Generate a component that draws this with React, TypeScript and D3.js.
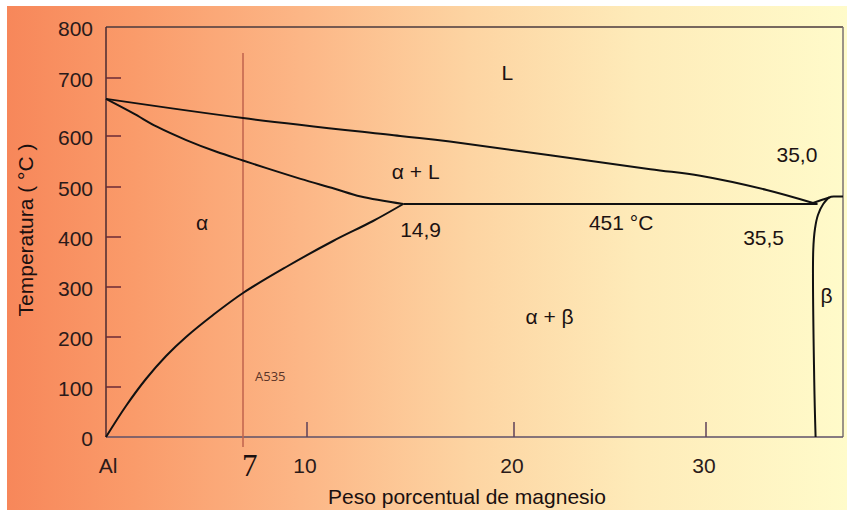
import React from "react";
import * as d3 from "d3";

// ---- data ----
const xBreaks = [0, 7, 10, 20, 30, 37];
const yBreaks = [0, 500, 600, 700, 800];

const yTickValues = [0, 100, 200, 300, 400, 500, 600, 700, 800];
const yInnerTicks = [100, 200, 300, 400, 500, 600, 700];
const xTickValues = [10, 20, 30];
const xTickLabels = ["10", "20", "30"];

const liquidusMg = [0, 7, 14.5, 16.9, 27.1, 29.7, 33.1, 35.47];
const liquidusT = [664, 631, 600, 589, 535, 522, 494, 468];

const solidusMg = [0, 1.4, 2.6, 4.1, 5.65, 7.0, 8.1, 9.7, 11.3, 12.6, 14.65];
const solidusT = [664, 639, 616, 592, 569, 552, 537, 516, 497, 481, 466];

const solvusMg = [0, 1.02, 2.04, 3.07, 4.09, 5.47, 7.0, 9.02, 11.26, 13.19, 14.65];
const solvusT = [0, 62, 116, 162, 200, 244, 288, 340, 392, 432, 466];

const eutecticMg = [14.65, 35.7];
const eutecticT = [466, 466];

const betaMg = [35.6, 35.53, 35.48, 35.57, 35.72, 35.99, 36.3, 36.6, 37];
const betaT = [0, 114, 374, 417, 444, 466, 479, 481, 481];

const joinMg = [35.47, 35.9, 36.3];
const joinT = [468, 474, 479];

const alloyMg = [7, 7];
const alloyT = [-20, 749];

const labels = [
  { text: "L", mg: 19.4, t: 697 },
  { text: "α + L", mg: 14.1, t: 516 },
  { text: "α", mg: 4.6, t: 414 },
  { text: "14,9", mg: 14.5, t: 400 },
  { text: "451 °C", mg: 23.9, t: 414 },
  { text: "α + β", mg: 20.6, t: 227 },
  { text: "35,0", mg: 33.6, t: 549 },
  { text: "35,5", mg: 31.9, t: 384 },
  { text: "β", mg: 35.85, t: 268 },
];

const W = 847;
const H = 510;

export default function App() {
  const x = d3.scaleLinear().domain(xBreaks).range([106, 243, 307, 514, 706, 843]);
  const y = d3.scaleLinear().domain(yBreaks).range([437, 187, 136, 78, 27]);

  const line = d3
    .line<[number, number]>()
    .x((d) => x(d[0]))
    .y((d) => y(d[1]))
    .curve(d3.curveCatmullRom.alpha(0.5));
  const zip = (a: number[], b: number[]) => a.map((v, i) => [v, b[i]] as [number, number]);

  const left = x(0);
  const right = x(37);
  const top = y(800);
  const bottom = y(0);
  const font = "'Liberation Sans', Arial, sans-serif";
  const ink = "#1c1212";

  return (
    <svg
      width={W}
      height={H}
      style={{ position: "absolute", left: 0, top: 0, display: "block" }}
      fontFamily={font}
    >
      <defs>
        <linearGradient id="bg" x1="0" y1="0" x2="1" y2="0">
          <stop offset="0" stopColor="#f7875a" />
          <stop offset="0.15" stopColor="#fa9b6a" />
          <stop offset="0.35" stopColor="#fcb686" />
          <stop offset="0.55" stopColor="#fdd4a2" />
          <stop offset="0.75" stopColor="#feebb9" />
          <stop offset="1" stopColor="#fffbca" />
        </linearGradient>
      </defs>
      <rect x={0} y={0} width={W} height={H} fill="#ffffff" />
      <rect x={7} y={6} width={W - 7} height={H - 6} fill="url(#bg)" />

      {/* frame */}
      <line x1={left} x2={right} y1={top} y2={top} stroke="#4a3a3e" strokeWidth={1.5} />
      <line x1={right} x2={right} y1={top} y2={bottom} stroke="#7a7070" strokeWidth={1.5} />
      <line x1={left} x2={left} y1={top} y2={bottom} stroke="#4a2a30" strokeWidth={1.5} />
      <line x1={left} x2={right} y1={bottom} y2={bottom} stroke="#5e5068" strokeWidth={1.5} />

      {/* y ticks */}
      {yInnerTicks.map((v) => (
        <line key={"yt" + v} x1={left} x2={left + 15} y1={y(v)} y2={y(v)} stroke="#6a2a36" strokeWidth={1.5} />
      ))}
      {yTickValues.map((v) => (
        <text key={"yl" + v} x={93} y={y(v) + 1} textAnchor="end" dominantBaseline="central" fontSize={21} fill="#2a1a1a">
          {v}
        </text>
      ))}

      {/* x ticks */}
      {xTickValues.map((v, i) => (
        <g key={"xt" + v}>
          <line x1={x(v)} x2={x(v)} y1={bottom} y2={bottom - 15} stroke="#5e4058" strokeWidth={1.5} />
          <text x={x(v) - 2} y={473} textAnchor="middle" fontSize={21} fill="#2a1a1a">
            {xTickLabels[i]}
          </text>
        </g>
      ))}
      <text x={x(0) + 2} y={473} textAnchor="middle" fontSize={21} fill="#2a1a1a">
        Al
      </text>
      <text x={x(7) - 1} y={476} textAnchor="start" fontSize={31} fontFamily="'Liberation Serif', 'Times New Roman', serif" fill="#1a1010">
        7
      </text>

      {/* axis titles */}
      <text x={467} y={504} textAnchor="middle" fontSize={21} fill="#1a1010">
        Peso porcentual de magnesio
      </text>
      <text transform="translate(33,230) rotate(-90)" textAnchor="middle" fontSize={21} fill="#1a1010">
        Temperatura ( °C )
      </text>

      {/* alloy line */}
      <path d={line(zip(alloyMg, alloyT)) || ""} stroke="#c0634c" strokeWidth={1.5} fill="none" />
      <text x={x(7) + 12} y={381} fontSize={13} fontFamily="'Open Sans', sans-serif" fill="#5a3428">
        A535
      </text>

      {/* phase boundaries */}
      {[
        zip(liquidusMg, liquidusT),
        zip(solidusMg, solidusT),
        zip(solvusMg, solvusT),
        zip(eutecticMg, eutecticT),
        zip(betaMg, betaT),
        zip(joinMg, joinT),
      ].map((pts, i) => (
        <path key={"c" + i} d={line(pts) || ""} stroke="#111" strokeWidth={2} fill="none" strokeLinejoin="round" />
      ))}

      {/* region labels */}
      {labels.map((l) => (
        <text key={l.text} x={x(l.mg)} y={y(l.t)} fontSize={21} fill={ink}>
          {l.text}
        </text>
      ))}
    </svg>
  );
}
